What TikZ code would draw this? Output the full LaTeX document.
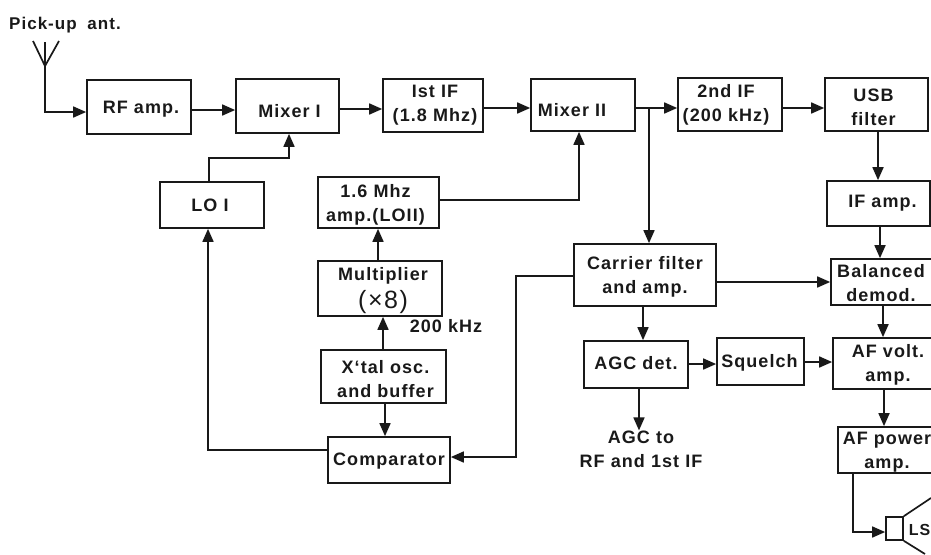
\documentclass[tikz,border=0pt]{standalone}
\usepackage{fontspec}
\setmainfont{Liberation Sans}[LetterSpace=6]
\usetikzlibrary{arrows.meta}
\tikzset{
  blockbox/.style={draw=black!90,line width=1.7pt,inner sep=0pt},
  lbl/.style={inner sep=0pt,align=center,font=\bfseries\fontsize{18}{24}\selectfont,text=black!90},
  wire/.style={draw=black!90,line width=1.7pt},
  flow/.style={wire,-{Triangle[length=13pt,width=11pt]}},
}
% name, x0, y0, x1, y1, text dx, text dy, text
\newcommand\bx[8]{\node[blockbox,minimum width={(#4-#2)*1pt},minimum height={(#5-#3)*1pt},
  label={[lbl,xshift=#6pt,yshift=-#7pt]center:{#8}}] (#1) at ({(#2+#4)/2},{(#3+#5)/2}) {};}
\begin{document}
\begin{tikzpicture}[x=1pt,y=-1pt]
\useasboundingbox (0,0) rectangle (931,554);
\clip (0,0) rectangle (931,554);
\bx{rf}{87}{80}{191}{134}{2}{2}{RF amp.}
\bx{mixa}{236}{79}{339}{133}{2}{5}{Mixer I}
\bx{ifa}{383}{79}{483}{132}{2}{0}{Ist IF\\(1.8 Mhz)}
\bx{mixb}{531}{79}{635}{131}{-11}{5}{Mixer II}
\bx{ifb}{678}{78}{782}{131}{-4}{0}{2nd IF\\(200 kHz)}
\bx{usb}{825}{78}{928}{131}{-3}{3}{USB\\filter}
\bx{ifamp}{827}{181}{930}{226}{4}{0}{IF amp.}
\bx{bal}{831}{259}{935}{305}{-2}{1}{Balanced\\demod.}
\bx{lo}{160}{182}{264}{228}{-2}{0}{LO I}
\bx{loii}{318}{177}{439}{228}{-3}{2}{1.6 Mhz\\amp.(LOII)}
\bx{mult}{318}{261}{442}{316}{3}{2}{Multiplier\\[4pt]{\mdseries\fontsize{25}{24}\selectfont(×8)}}
\bx{xtal}{321}{350}{446}{403}{2}{3}{X\char96 tal osc.\\and buffer}
\bx{comp}{328}{437}{450}{483}{0}{1}{Comparator}
\bx{car}{574}{244}{716}{306}{0}{2}{Carrier filter\\and amp.}
\bx{agc}{584}{341}{688}{388}{0}{-1}{AGC det.}
\bx{sq}{717}{338}{804}{385}{-1}{1}{Squelch}
\bx{afv}{833}{338}{943}{389}{0}{1}{AF volt.\\amp.}
\bx{afp}{838}{427}{946}{473}{-5}{2}{AF power\\amp.}
\bx{spk}{886}{517}{903}{540}{0}{0}{}
\node[lbl,anchor=east,font=\bfseries\fontsize{16}{24}\selectfont] (ls) at (930.5,530) {LS};
\node[lbl,anchor=west,font=\bfseries\fontsize{17}{24}\selectfont] (pick) at (9,25) {Pick-up\hspace{5pt} ant.};
\node[lbl] (khz) at (446,326) {200 kHz};
\node[lbl] (agcout) at (641,449) {AGC to\\RF and 1st IF};
% antenna
\coordinate (tip) at (45,66);
\coordinate (arml) at (33,41);
\coordinate (armr) at (59,41);
\coordinate (armm) at (45,42);
\draw[wire] (arml) -- (tip) -- (armr) (armm) -- (tip);
\draw[flow] (tip) |- (rf.west |- 0,112);
% speaker cone
\coordinate (conet) at (931,498);
\coordinate (coneb) at (925,554);
\draw[wire] (spk.north east) -- (conet);
\draw[wire] (spk.south east) -- (coneb);
% top row
\draw[flow] (rf.east |- 0,110) -- (mixa.west |- 0,110);
\draw[flow] (mixa.east |- 0,109) -- (ifa.west |- 0,109);
\draw[flow] (ifa.east |- 0,108) -- (mixb.west |- 0,108);
\draw[flow] (mixb.east |- 0,108) -- (ifb.west |- 0,108);
\draw[flow] (ifb.east |- 0,108) -- (usb.west |- 0,108);
\coordinate (jn) at (649,108);
\draw[flow] (jn) -- (jn |- car.north);
% right column
\draw[flow] (usb.south -| 878,0) -- (ifamp.north -| 878,0);
\draw[flow] (ifamp.south -| 880,0) -- (bal.north -| 880,0);
\draw[flow] (bal.south -| 883,0) -- (afv.north -| 883,0);
\draw[flow] (afv.south -| 884,0) -- (afp.north -| 884,0);
\draw[flow] (afp.south -| 853,0) |- (spk.west |- 0,532);
% carrier
\draw[flow] (car.east |- 0,282) -- (bal.west |- 0,282);
\draw[flow] (car.south -| 643,0) -- (agc.north -| 643,0);
\draw[flow] (agc.east |- 0,364) -- (sq.west |- 0,364);
\draw[flow] (sq.east |- 0,362) -- (afv.west |- 0,362);
\draw[flow] (agc.south -| 639,0) -- (agcout.north -| 639,0);
\draw[flow] (car.west |- 0,276) -- (516,276) -- (516,457) -- (comp.east |- 0,457);
% left column
\draw[flow] (lo.north -| 209,0) |- (289,158) -- (mixa.south -| 289,0);
\draw[flow] (loii.east |- 0,200) -| (mixb.south -| 579,0);
\draw[flow] (mult.north -| 378,0) -- (loii.south -| 378,0);
\draw[flow] (xtal.north -| 383,0) -- (mult.south -| 383,0);
\draw[flow] (xtal.south -| 385,0) -- (comp.north -| 385,0);
\draw[flow] (comp.west |- 0,450) -| (lo.south -| 208,0);
\end{tikzpicture}
\end{document}
